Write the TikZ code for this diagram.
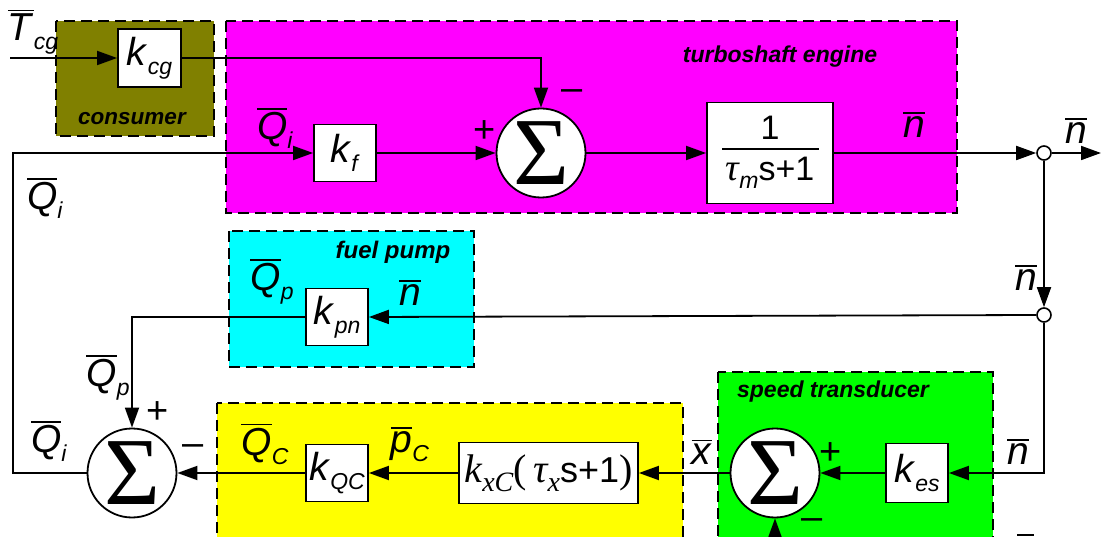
\documentclass[tikz,border=0pt]{standalone}
\usepackage{fontspec}
\setmainfont{Liberation Sans}
\newfontfamily\tms{Liberation Serif}
\usetikzlibrary{arrows.meta}
\definecolor{cons}{RGB}{128,128,0}
\definecolor{eng}{RGB}{255,0,255}
\definecolor{pump}{RGB}{0,255,255}
\definecolor{yel}{RGB}{255,255,0}
\definecolor{grn}{RGB}{0,255,0}
\newcommand\subsz{\fontsize{23}{23}\selectfont}
\newcommand\mainsz{\fontsize{39}{39}\selectfont}
\newcommand\ob[1]{\vbox{\hrule height 1.8pt\kern 2.5pt\hbox{#1}}}
\newcommand\lab[2]{\ob{\textit{#1}}\raisebox{-9pt}{\subsz\textit{#2}}}
\newcommand\kk[1]{\textit{k}\raisebox{-9pt}{\subsz\textit{#1}}}
\newcommand\sig{{\fontsize{96}{96}\selectfont\tms Σ}}
\tikzset{
  grp/.style={line width=1.8pt, dash pattern=on 11pt off 6pt},
  blk/.style={draw, fill=white, line width=1.8pt, inner sep=0pt, font=\mainsz},
  sumc/.style={circle, draw, fill=white, line width=1.8pt, inner sep=0pt, minimum size=89pt},
  junc/.style={circle, draw, fill=white, line width=1.6pt, inner sep=0pt, minimum size=14pt},
  wire/.style={line width=1.8pt},
  arr/.style={line width=1.8pt, -{Triangle[length=20pt,width=14pt]}},
  lbl/.style={font=\mainsz, inner sep=0pt},
  sgn/.style={font=\fontsize{38}{38}\selectfont, inner sep=0pt},
  ttl/.style={font=\fontsize{23}{23}\selectfont\bfseries\itshape, inner sep=0pt}
}
\begin{document}
\begin{tikzpicture}[x=1pt,y=-1pt]
\clip (0,0) rectangle (1101,537);
\fill[white] (0,0) rectangle (1101,537);
% group boxes
\filldraw[grp, fill=cons] (56,21) rectangle (214,136);
\filldraw[grp, fill=eng] (226,21) rectangle (957,213);
\filldraw[grp, fill=pump] (229,231) rectangle (474,367);
\filldraw[grp, fill=yel] (217,403) rectangle (683,560);
\filldraw[grp, fill=grn] (718,372) rectangle (993,560);
\node[ttl, font=\fontsize{22.5}{22.5}\selectfont\bfseries\itshape] (tcons) at (132,119) {consumer};
\node[ttl] (teng) at (780,57) {turboshaft engine};
\node[ttl, font=\fontsize{24}{24}\selectfont\bfseries\itshape] (tpump) at (393,252) {fuel pump};
\node[ttl] (tspeed) at (833,392) {speed transducer};
% blocks
\node[blk, minimum width=63pt, minimum height=58pt] (kcg) at (149.5,58) {\kk{cg}};
\node[blk, minimum width=62pt, minimum height=57pt] (kf) at (345,153) {\kk{f}};
\node[sumc] (s1) at (541,153) {\sig};
\node[blk, minimum width=126pt, minimum height=101pt] (g) at (770,153) {};
\node[inner sep=0pt, font=\fontsize{34}{34}\selectfont] (gnum) at (770,128) {1};
\draw[wire] (722,149) -- (819,149);
\node[inner sep=0pt, font=\fontsize{34}{34}\selectfont] (gden) at (770,173) {{\fontsize{38}{38}\selectfont\tms\itshape τ}\raisebox{-8pt}{\subsz\itshape m}s+1};
\node[junc] (j1) at (1044,153) {};
\node[junc] (j2) at (1044,315) {};
\node[blk, minimum width=62pt, minimum height=57pt] (kpn) at (337,317) {\kk{pn}};
\node[sumc] (s2) at (132,473) {\sig};
\node[blk, minimum width=62pt, minimum height=57pt] (kqc) at (337,473) {\kk{QC}};
\node[blk, minimum width=179pt, minimum height=61pt] (kxc) at (548.5,473) {{\fontsize{40}{40}\selectfont\tms\itshape k}\raisebox{-9pt}{\fontsize{28}{28}\selectfont\tms\itshape xC}{\fontsize{40}{40}\selectfont\tms(\,\itshape τ}\raisebox{-9pt}{\fontsize{28}{28}\selectfont\tms\itshape x}{\fontsize{36}{36}\selectfont s+1}{\fontsize{40}{40}\selectfont\tms)}};
\node[sumc] (s3) at (775,473) {\sig};
\node[blk, minimum width=62pt, minimum height=59pt] (kes) at (917,473) {\kk{es}};
% free ends
\coordinate (tin) at (10,58);
\coordinate (c1) at (13,473);
\coordinate (c2) at (13,153);
\coordinate (nout) at (1101,153);
\coordinate (b3) at (775,560);
% connectors
\draw[arr] (tin) -- (kcg.west);
\draw[arr] (kcg.east) -| (s1.north);
\draw[arr] (s2.west) -- (c1) -- (c2) -- (kf.west);
\draw[arr] (kf.east) -- (s1.west);
\draw[arr] (s1.east) -- (g.west);
\draw[arr] (g.east) -- (j1.west);
\draw[arr] (j1.east) -- (nout);
\draw[arr] (j1.south) -- (j2.north);
\draw[arr] (j2.west) -- (kpn.east);
\draw[arr] (kpn.west) -| (s2.north);
\draw[arr] (j2.south) |- (kes.east);
\draw[arr] (kes.west) -- (s3.east);
\draw[arr] (s3.west) -- (kxc.east);
\draw[arr] (kxc.west) -- (kqc.east);
\draw[arr] (kqc.west) -- (s2.east);
\draw[arr] (b3) -- (s3.south);
\draw[wire] (1017,535) -- (1034,535);
% labels
\node[lbl] (lt) at (33,32) {\lab{T}{cg}};
\node[lbl] (lq1) at (275,128) {\lab{Q}{i}};
\node[lbl] (lq2) at (45,198) {\lab{Q}{i}};
\node[lbl] (ln1) at (914,125) {\ob{\textit{n}}};
\node[lbl] (ln2) at (1076,131) {\ob{\textit{n}}};
\node[lbl] (ln3) at (1026,278) {\ob{\textit{n}}};
\node[lbl] (lqp1) at (272,282) {\lab{Q}{p}};
\node[lbl] (ln4) at (410,293) {\ob{\textit{n}}};
\node[lbl] (lqp2) at (108,378) {\lab{Q}{p}};
\node[lbl] (lq3) at (49,441) {\lab{Q}{i}};
\node[lbl] (lqc) at (265,444) {\lab{Q}{C}};
\node[lbl] (lpc) at (410,444) {\lab{p}{C}};
\node[lbl] (lx) at (702,452) {\ob{\textit{x}}};
\node[lbl] (ln5) at (1018,452) {\ob{\textit{n}}};
% signs
\node[sgn] (p1) at (485,132) {+};
\node[sgn] (m1) at (572,95) {–};
\node[sgn] (p2) at (158,413) {+};
\node[sgn] (m2) at (193,450) {–};
\node[sgn] (p3) at (831,454) {+};
\node[sgn] (m3) at (812,524) {–};
\end{tikzpicture}
\end{document}
